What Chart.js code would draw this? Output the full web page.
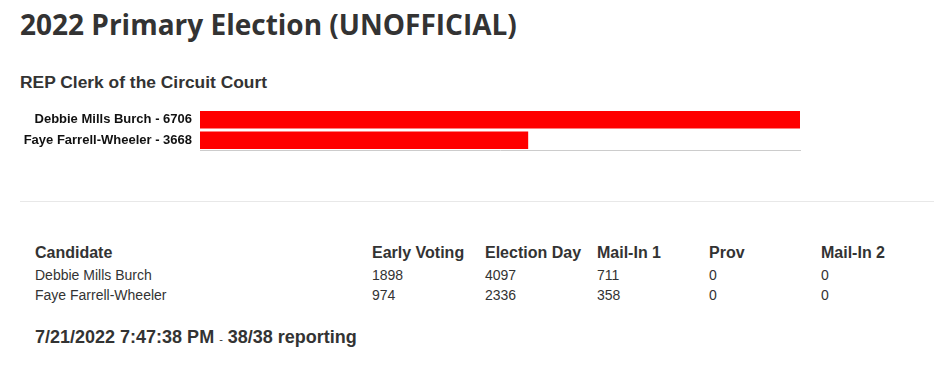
<!DOCTYPE html>
<html><head><meta charset="utf-8">
<script src="https://cdn.jsdelivr.net/npm/chart.js@4/dist/chart.umd.min.js"></script>
<style>
html,body{margin:0;padding:0;background:#fff;width:934px;height:371px;overflow:hidden;}
body{position:relative;font-family:"Liberation Sans",Arial,sans-serif;color:#333;}
h1{position:absolute;left:20px;top:5px;margin:0;font-family:"Open Sans",sans-serif;font-weight:700;font-size:28px;color:#333;line-height:38px;}
h2{position:absolute;left:20px;top:72px;margin:0;font-size:17.4px;font-weight:700;color:#333;line-height:20px;}
#c{position:absolute;left:0;top:100px;}
hr{position:absolute;left:20px;top:201px;width:914px;margin:0;border:0;border-top:1px solid #e8e8e8;}
table{position:absolute;left:29px;top:240px;border-collapse:collapse;}
th{font-size:16px;font-weight:700;text-align:left;padding:0 6px;height:25px;color:#333;}
td{font-size:14px;padding:0 6px;height:20px;color:#333;}
#foot{position:absolute;left:35px;top:327px;font-size:18px;font-weight:700;color:#333;}
#foot small{font-size:11px;font-weight:400;}
</style></head>
<body>
<h1>2022 Primary Election (UNOFFICIAL)</h1>
<h2>REP Clerk of the Circuit Court</h2>
<canvas id="c" width="810" height="60"></canvas>
<hr>
<table id="t"></table>
<div id="foot">7/21/2022 7:47:38 PM <small>-</small> 38/38 reporting</div>
<script>
const candidates = ["Debbie Mills Burch", "Faye Farrell-Wheeler"];
const totals = [6706, 3668];
const columns = ["Candidate", "Early Voting", "Election Day", "Mail-In 1", "Prov", "Mail-In 2"];
const earlyVoting = [1898, 974];
const electionDay = [4097, 2336];
const mailIn1 = [711, 358];
const prov = [0, 0];
const mailIn2 = [0, 0];

const labels = candidates.map((c, i) => c + " - " + totals[i]);

new Chart(document.getElementById("c"), {
  type: "bar",
  data: { labels, datasets: [{ data: totals, backgroundColor: "#ff0000", borderWidth: 0,
    barPercentage: 0.9, categoryPercentage: 0.95 }] },
  options: {
    indexAxis: "y", responsive: false, animation: false, devicePixelRatio: 1,
    layout: { padding: { top: 9.5, bottom: 0, left: 0, right: 10 } },
    plugins: { legend: { display: false }, tooltip: { enabled: false } },
    scales: {
      x: { min: 0, max: 6706, ticks: { display: false }, grid: { display: false, drawTicks: false },
           border: { display: true, color: "#cccccc" },
           afterFit: (s) => { s.height = 9.5; s.paddingLeft = 0; s.paddingRight = 0; } },
      y: { grid: { display: false, drawTicks: false }, border: { display: false },
           ticks: { color: "#111", padding: 8, font: { family: "'Liberation Sans', Arial", size: 13, weight: "bold" } },
           afterFit: (s) => { s.width = 200; s.paddingTop = 0; s.paddingBottom = 0; } }
    }
  }
});

const t = document.getElementById("t");
const widths = [337, 113, 112, 112, 112, 80];
let h = "<tr>" + columns.map((c, i) => `<th style="width:${widths[i]-12}px">${c}</th>`).join("") + "</tr>";
candidates.forEach((c, i) => {
  h += `<tr><td>${c}</td><td>${earlyVoting[i]}</td><td>${electionDay[i]}</td><td>${mailIn1[i]}</td><td>${prov[i]}</td><td>${mailIn2[i]}</td></tr>`;
});
t.innerHTML = h;
</script>
</body></html>
